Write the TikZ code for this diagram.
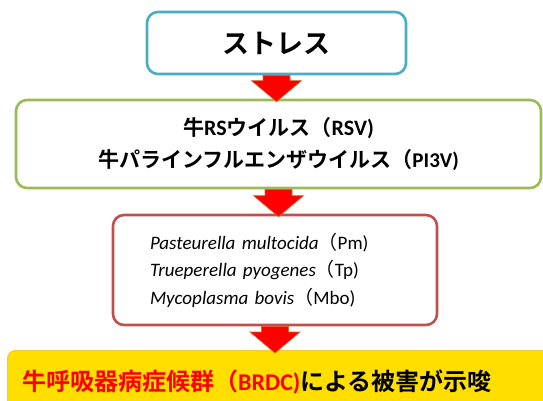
\documentclass[tikz,border=0pt]{standalone}
\usepackage{fontspec}
\usepackage{tikz}
\usetikzlibrary{calc}
\setmainfont{Carlito}
\newfontfamily\jpfont{Noto Sans CJK JP}[BoldFont={Noto Sans CJK JP Bold}]
\newcommand{\jpn}[1]{{\jpfont #1}}
\definecolor{bb}{RGB}{75, 172, 198}
\definecolor{gg}{RGB}{155, 187, 89}
\definecolor{rr}{RGB}{192, 80, 77}
\definecolor{yy}{RGB}{255, 222, 0}
\definecolor{ye}{RGB}{238, 205, 60}
\definecolor{ar}{RGB}{255, 0, 0}
\definecolor{ae}{RGB}{205, 105, 50}

\begin{document}
\begin{tikzpicture}[x=1pt, y=-1pt,
  box/.style={rectangle, rounded corners=11pt, line width=2.6pt, fill=white, inner sep=0pt},
  blockarrow/.style={fill=ar, draw=ae, line width=0.6pt}]
\useasboundingbox (0,0) rectangle (543,401);
\node (stress) [box, draw=bb, minimum width=259pt, minimum height=62pt] at (276.5, 43) {\jpn{\bfseries\fontsize{27}{30}\selectfont ストレス}};
\node (virus) [box, draw=gg, minimum width=525pt, minimum height=88pt, align=center, font=\bfseries\fontsize{21}{32}\selectfont] at (278.5, 144)
  {\jpn{牛}{\fontsize{22}{32}\selectfont RS}\jpn{ウイルス（}{\fontsize{22}{32}\selectfont RSV)}\\ \jpn{牛パラインフルエンザウイルス（}PI3V)};
\node (bact) [box, draw=rr, minimum width=324pt, minimum height=110pt, inner xsep=37pt, text width=250pt, align=left, font=\fontsize{19}{27.5}\selectfont] at (275, 270)
  {\textit{Pasteurella multocida}\jpn{（}Pm)\\ \textit{Trueperella pyogenes}\jpn{（}Tp)\\ \textit{Mycoplasma bovis}\jpn{（}Mbo)};
\node (brdc) [rectangle, rounded corners=8pt, fill=yy, draw=ye, line width=1pt, minimum width=560pt, minimum height=70pt, anchor=north west] at (7, 350) {};
\node (brdctext) [anchor=base west, inner sep=0pt, font=\bfseries\fontsize{24}{26}\selectfont] at (22, 390)
  {\textcolor{ar}{\jpn{牛呼吸器病症候群（}BRDC)}\jpn{による被害が示唆}};
% red arrows between the boxes
\foreach \a/\b in {stress/virus, virus/bact, bact/brdc}
  \path [blockarrow] let \p1=(\a.south), \p2=(\b.north) in
    (\x1-13.5, \y1) -- (\x1+13.5, \y1) -- (\x1+13.5, \y2+18) -- (\x1+25, \y2+18)
    -- (\x1, \y2-3) -- (\x1-25, \y2+18) -- (\x1-13.5, \y2+18) -- cycle;
\end{tikzpicture}
\end{document}
